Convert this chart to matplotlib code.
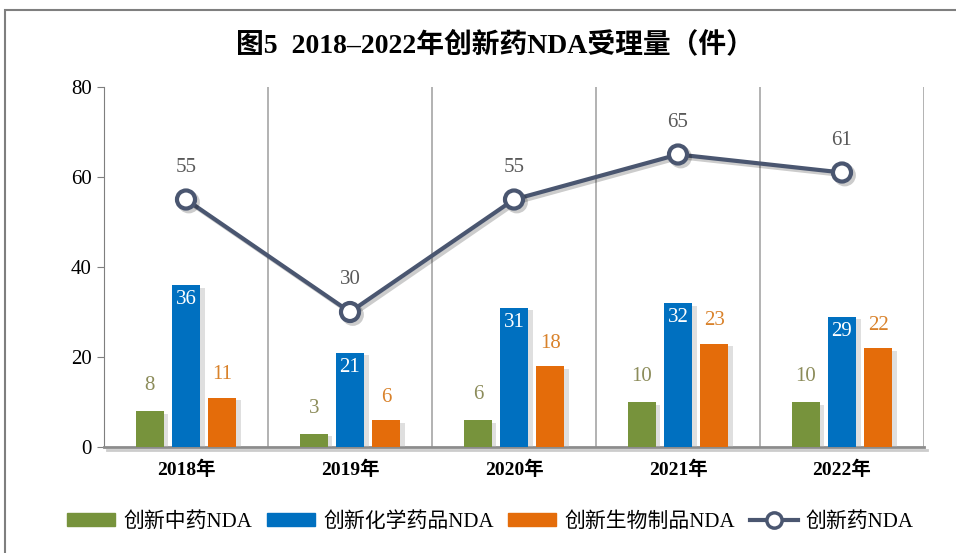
import numpy as np
import matplotlib
matplotlib.use("Agg")
import matplotlib.pyplot as plt
from matplotlib import patheffects as pe
from matplotlib.patches import Rectangle
from matplotlib.lines import Line2D

years = ["2018年", "2019年", "2020年", "2021年", "2022年"]
tcm = [8, 3, 6, 10, 10]
chem = [36, 21, 31, 32, 29]
bio = [11, 6, 18, 23, 22]
total = [55, 30, 55, 65, 61]

fam = ["Liberation Serif", "Noto Sans CJK SC"]
plt.rcParams["font.family"] = fam

c_green = "#77933C"
c_blue = "#0070C0"
c_orange = "#E46C0A"
c_line = "#4A5670"

fig = plt.figure(figsize=(9.56, 5.53), dpi=100)
ax = fig.add_axes([104 / 956, 1 - 447 / 553, 820 / 956, 360 / 553])

# frame around the figure
fig.patches.append(Rectangle((5 / 956, -0.1), 1.2, 1 - 10 / 553 + 0.1,
                             transform=fig.transFigure, fill=False,
                             edgecolor="#7f7f7f", linewidth=1.5))

x = np.arange(len(years))
w = 0.175
off = 0.22
shadow = [pe.SimplePatchShadow(offset=(3, -2), shadow_rgbFace="#b0b0b0", alpha=0.4), pe.Normal()]

ax.bar(x - off, tcm, w, color=c_green, zorder=3, path_effects=shadow)
ax.bar(x, chem, w, color=c_blue, zorder=3, path_effects=shadow)
ax.bar(x + off, bio, w, color=c_orange, zorder=3, path_effects=shadow)

ax.plot(x, total, color=c_line, lw=3, marker="o", ms=13, mfc="white",
        mec=c_line, mew=3, zorder=5,
        path_effects=[pe.SimpleLineShadow(offset=(2, -2), alpha=0.2), pe.Normal()])

for i in range(len(x)):
    ax.text(x[i] - off, tcm[i] + 3.5, str(tcm[i]), ha="center", va="bottom",
            fontsize=15, color="#8C8C5A")
    ax.text(x[i], chem[i] - 1.2, str(chem[i]), ha="center", va="top",
            fontsize=15, color="white", zorder=4)
    ax.text(x[i] + off, bio[i] + 3.0, str(bio[i]), ha="center", va="bottom",
            fontsize=15, color="#D9822B")
    ax.text(x[i], total[i] + 5.0, str(total[i]), ha="center", va="bottom",
            fontsize=15, color="#595959")

ax.set_xlim(-0.5, 4.5)
ax.set_ylim(0, 80)
ax.set_yticks([0, 20, 40, 60, 80])
ax.tick_params(axis="y", labelsize=15, length=5, color="#7f7f7f", pad=4)
ax.set_xticks(x)
ax.set_xticklabels(years, fontsize=14, fontweight="bold")
ax.tick_params(axis="x", length=0, pad=10)

for xv in np.arange(0.5, 5, 1):
    ax.axvline(xv, color="#a6a6a6", lw=1.2, zorder=1)

for s in ["top", "right"]:
    ax.spines[s].set_visible(False)
ax.spines["left"].set_color("#7f7f7f")
ax.spines["bottom"].set_color("#8c8c8c")
ax.spines["bottom"].set_linewidth(2)
ax.spines["bottom"].set_path_effects([pe.SimpleLineShadow(offset=(2, -2), alpha=0.2), pe.Normal()])

fig.text(0.518, 1 - 45 / 553, "图5  2018–2022年创新药NDA受理量（件）", ha="center",
         va="center", fontsize=20, fontweight="bold")

handles = [
    Rectangle((0, 0), 1, 1, color=c_green),
    Rectangle((0, 0), 1, 1, color=c_blue),
    Rectangle((0, 0), 1, 1, color=c_orange),
    Line2D([], [], color=c_line, lw=3, marker="o", ms=11, mfc="white", mec=c_line, mew=2.5),
]
labels = ["创新中药NDA", "创新化学药品NDA", "创新生物制品NDA", "创新药NDA"]
fig.legend(handles, labels, loc="center", bbox_to_anchor=(0.513, 1 - 522 / 553),
           ncol=4, frameon=False, fontsize=15, handlelength=2.3, handleheight=0.6,
           columnspacing=0.7, handletextpad=0.4)

fig.savefig("out.png", dpi=100)
